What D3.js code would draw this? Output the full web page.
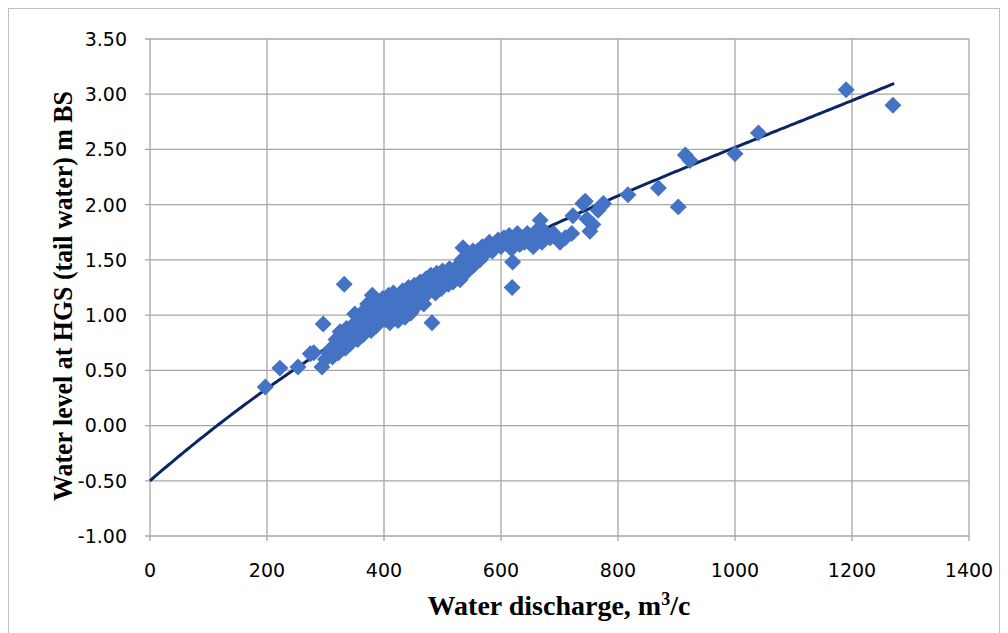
<!DOCTYPE html>
<html>
<head>
<meta charset="utf-8">
<script src="https://cdn.jsdelivr.net/npm/d3@7"></script>
<style>
  html, body { margin: 0; padding: 0; background: #fff; }
  svg { display: block; }
</style>
</head>
<body>
<svg id="chart" width="1008" height="633"></svg>
<script>
// ---- data ----
const discharge = [197,222,253,274,280,294,296,300,305,310,312,318,320,322,325,328,330,332,334,336,338,340,342,345,347,350,352,355,356,358,360,362,364,366,368,370,372,374,376,378,380,382,384,386,388,390,392,394,396,398,400,402,404,406,408,410,412,414,416,418,420,422,424,426,428,430,432,434,436,438,440,442,444,446,448,450,452,455,458,460,462,465,468,470,472,475,478,480,482,484,486,488,490,492,495,498,500,503,506,510,512,515,518,520,524,527,530,533,535,538,540,541,543,546,550,552,553,556,560,564,568,572,576,580,585,590,595,600,605,610,614,618,619,620,624,628,632,636,640,645,650,655,660,664,667,670,674,678,684,690,701,710,721,723,740,744,747,752,757,766,772,775,817,869,903,915,923,1000,1040,1190,1270];
const waterLevel = [0.35,0.52,0.53,0.65,0.66,0.53,0.92,0.60,0.66,0.70,0.62,0.78,0.72,0.66,0.85,0.75,0.80,1.28,0.70,0.88,0.78,0.82,0.74,0.90,0.80,1.01,0.86,0.78,0.94,0.84,0.98,0.90,0.82,1.04,0.95,0.88,1.10,1.00,0.92,0.86,1.18,1.05,0.98,0.90,1.12,1.02,0.94,1.08,0.99,1.15,1.05,0.96,1.12,1.00,1.18,0.93,1.08,1.02,1.20,0.97,1.12,1.05,0.95,1.18,1.08,1.00,1.22,1.12,0.98,1.15,1.06,1.25,1.10,1.02,1.20,1.14,1.27,1.08,1.22,1.15,1.30,1.18,1.10,1.25,1.33,1.20,1.28,1.36,0.93,1.25,1.32,1.20,1.38,1.28,1.35,1.24,1.40,1.30,1.36,1.28,1.42,1.34,1.30,1.40,1.36,1.45,1.32,1.50,1.61,1.44,1.52,1.47,1.40,1.48,1.56,1.58,1.45,1.52,1.58,1.50,1.62,1.55,1.60,1.66,1.58,1.64,1.68,1.62,1.70,1.65,1.72,1.60,1.25,1.48,1.68,1.74,1.64,1.70,1.66,1.74,1.68,1.62,1.72,1.78,1.86,1.66,1.76,1.72,1.70,1.74,1.66,1.70,1.74,1.90,2.01,2.03,1.87,1.76,1.82,1.95,1.99,2.01,2.09,2.15,1.98,2.45,2.40,2.46,2.65,3.04,2.90];
// polynomial trendline coefficients (c0 + c1 x + c2 x^2 + c3 x^3), fitted visually
const trendCoeffs = [-0.5, 0.0046056, -2.2875e-6, 7.0e-10];
const trendRange = [0, 1272];
const xTicks = [0,200,400,600,800,1000,1200,1400];
const yTicks = [-1.0,-0.5,0,0.5,1.0,1.5,2.0,2.5,3.0,3.5];
const xTitle = "Water discharge, m";
const yTitle = "Water level at HGS (tail water) m BS";

// ---- layout ----
const svg = d3.select("#chart");
const mLeft = 150, mRight = 969, mTop = 39, mBottom = 536;
const x = d3.scaleLinear().domain([0, 1400]).range([mLeft, mRight]);
const y = d3.scaleLinear().domain([-1, 3.5]).range([mBottom, mTop]);

// outer border
svg.append("rect").attr("x", 8.5).attr("y", 8.5).attr("width", 991).attr("height", 640)
  .attr("fill", "none").attr("stroke", "#BFBFBF").attr("stroke-width", 1);

const gridColor = "#A6A6A6";
// gridlines
svg.append("g").selectAll("line").data(yTicks).join("line")
  .attr("x1", mLeft - 5).attr("x2", mRight)
  .attr("y1", d => y(d)).attr("y2", d => y(d))
  .attr("stroke", gridColor).attr("stroke-width", 1.3);
svg.append("g").selectAll("line").data(xTicks).join("line")
  .attr("x1", d => x(d)).attr("x2", d => x(d))
  .attr("y1", mTop).attr("y2", mBottom + 5)
  .attr("stroke", gridColor).attr("stroke-width", 1.3);

// tick labels
svg.append("g").selectAll("text").data(yTicks).join("text")
  .attr("x", 127).attr("y", d => y(d))
  .attr("dy", "0.36em")
  .attr("text-anchor", "end")
  .attr("font-family", "DejaVu Sans, sans-serif")
  .attr("font-size", 19)
  .attr("fill", "#000")
  .text(d => d.toFixed(2));
svg.append("g").selectAll("text").data(xTicks).join("text")
  .attr("x", d => x(d)).attr("y", 577)
  .attr("text-anchor", "middle")
  .attr("font-family", "DejaVu Sans, sans-serif")
  .attr("font-size", 19)
  .attr("fill", "#000")
  .text(d => d);

// trendline
const trend = d3.range(trendRange[0], trendRange[1] + 1, 4).map(v =>
  [v, trendCoeffs[0] + trendCoeffs[1]*v + trendCoeffs[2]*v*v + trendCoeffs[3]*v*v*v]);
svg.append("path").datum(trend)
  .attr("fill", "none").attr("stroke", "#0B2763").attr("stroke-width", 3)
  .attr("d", d3.line().x(d => x(d[0])).y(d => y(d[1])));

// markers
const pts = discharge.map((d, i) => [d, waterLevel[i]]);
const sym = d3.symbol(d3.symbolSquare, 144);
svg.append("g").selectAll("path").data(pts).join("path")
  .attr("d", sym)
  .attr("transform", d => `translate(${x(d[0])},${y(d[1])}) rotate(45)`)
  .attr("fill", "#4472C4");

// axis titles
const xt = svg.append("text")
  .attr("x", 559).attr("y", 615)
  .attr("text-anchor", "middle")
  .attr("font-family", "Liberation Serif, Times New Roman, serif")
  .attr("font-weight", "bold").attr("font-size", 28)
  .attr("fill", "#000");
xt.append("tspan").text(xTitle);
xt.append("tspan").attr("dy", -10).attr("font-size", 18).text("3");
xt.append("tspan").attr("dy", 10).text("/c");

svg.append("text")
  .attr("transform", "translate(72,296) rotate(-90)")
  .attr("text-anchor", "middle")
  .attr("font-family", "Liberation Serif, Times New Roman, serif")
  .attr("font-weight", "bold").attr("font-size", 27)
  .attr("textLength", 410).attr("lengthAdjust", "spacingAndGlyphs")
  .attr("fill", "#000")
  .text(yTitle);
</script>
</body>
</html>
